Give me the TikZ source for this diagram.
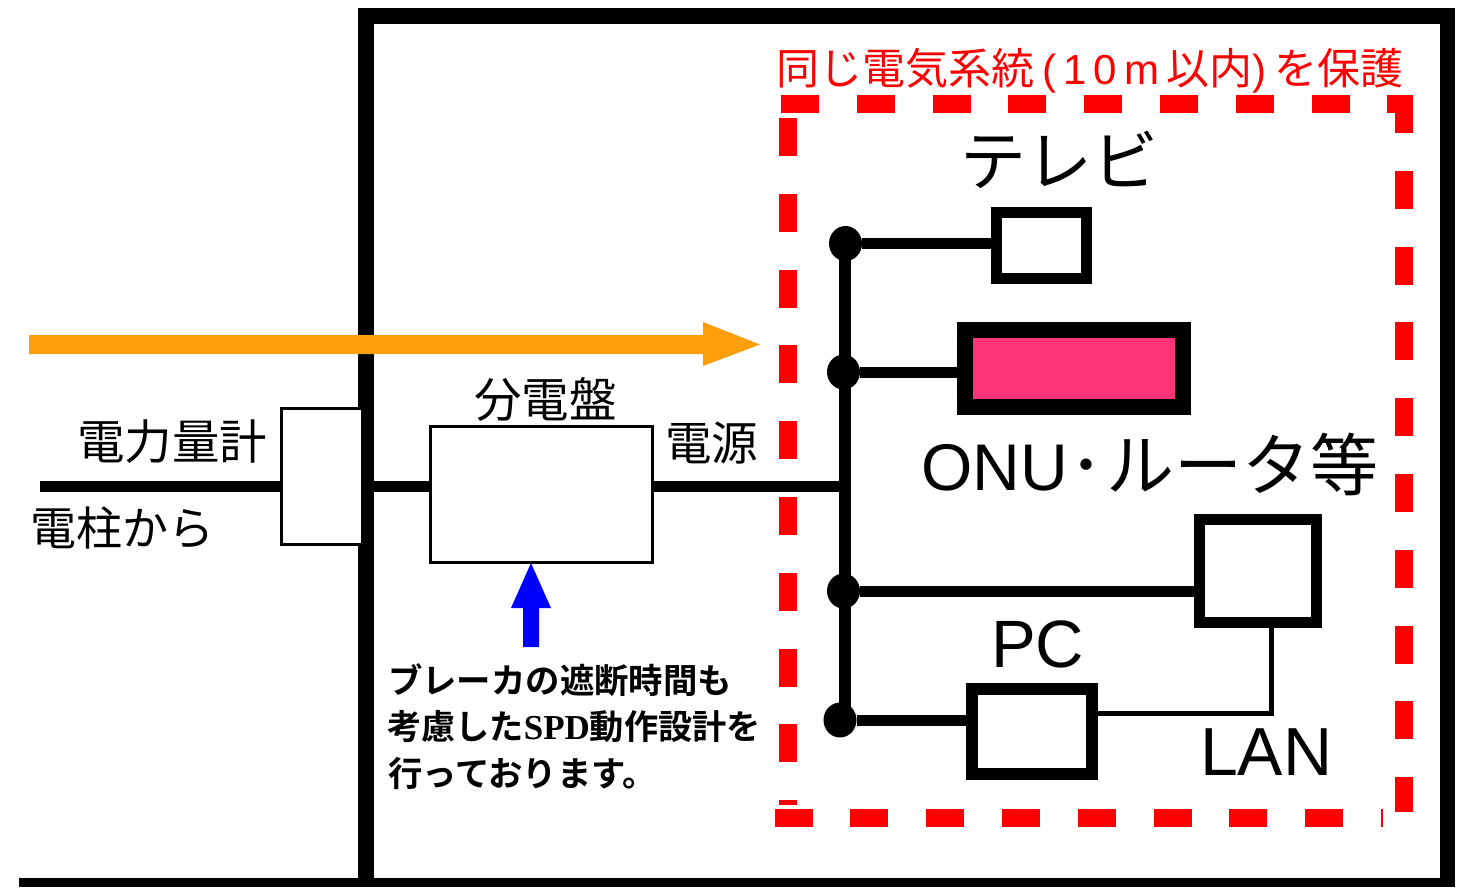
\documentclass[tikz,border=0pt]{standalone}
\usepackage{fontspec}
\usetikzlibrary{shapes.geometric}
\setmainfont{Liberation Sans}
\newfontfamily\cjk{Noto Sans CJK JP}
\newfontfamily\cjkbold{Noto Sans CJK JP Bold}
\newfontfamily\serifb{Liberation Serif Bold}
\definecolor{orangeA}{HTML}{FF9E0B}
\definecolor{pinkA}{HTML}{FF3377}
\newcommand{\fs}[1]{\fontsize{#1}{#1}\selectfont}
\newcommand{\lat}[1]{{\fontspec{Liberation Sans}\fs{42}#1}}
\tikzset{
  devbox/.style={draw=black,fill=white,rectangle,inner sep=0pt,outer sep=0pt},
  jdot/.style={ellipse,fill=black,inner sep=0pt,outer sep=0pt,minimum width=33pt,minimum height=35pt},
  wall/.style={line width=16pt,black},
  wire/.style={line width=11pt,black},
  reddash/.style={red,line width=18pt,dash pattern=on 38pt off 37.8pt},
  lbl/.style={inner sep=0pt,outer sep=0pt,black,align=left}
}
\begin{document}
\begin{tikzpicture}[x=1pt,y=-1pt]
\useasboundingbox (0,0) rectangle (1461,887);
% building walls
\coordinate (wtl) at (366,16);
\coordinate (wtr) at (1447,16);
\coordinate (wbl) at (366,887);
\coordinate (wbr) at (1447,887);
\coordinate (gl) at (19,882.5);
\coordinate (gr) at (1455,882.5);
\draw[wall,line cap=rect] (wtl) -- (wtr);
\draw[wall] (wtl) -- (wbl);
\draw[black,line width=15pt] (wtr) -- (wbr);
\draw[black,line width=9pt] (gl) -- (gr);
% red protected zone
\coordinate (zt1) at (781,103.5);  \coordinate (zt2) at (1401,103.5);
\coordinate (zr1) at (1404,95);    \coordinate (zr2) at (1404,812);
\coordinate (zb1) at (1383,818);   \coordinate (zb2) at (775,818);
\coordinate (zl1) at (788,118);    \coordinate (zl2) at (788,805);
\draw[reddash] (zt1) -- (zt2);
\draw[reddash] (zr1) -- (zr2);
\draw[reddash,dash phase=36pt] (zb1) -- (zb2);
\draw[reddash] (zl1) -- (zl2);
% boxes
\node[devbox,line width=3pt,minimum width=81pt,minimum height=136pt] (meter) at (322,476.5) {};
\node[devbox,line width=3pt,minimum width=222pt,minimum height=136pt] (panel) at (541.5,494.5) {};
\node[devbox,line width=11pt,minimum width=90pt,minimum height=66pt] (tv) at (1041.5,245.5) {};
\node[devbox,line width=16pt,fill=pinkA,minimum width=218pt,minimum height=77pt] (onu) at (1074,368.5) {};
\node[devbox,line width=11pt,minimum width=117pt,minimum height=103pt] (router) at (1258,571) {};
\node[devbox,line width=12pt,minimum width=120pt,minimum height=85pt] (pc) at (1032,731.5) {};
% junctions
\coordinate (in) at (40,486);
\coordinate (bustop) at (845,243);
\coordinate (busbot) at (845,720);
\node[jdot] (d1) at (845.5,243.5) {};
\node[jdot] (d2) at (843.5,372) {};
\node[jdot] (d3) at (843.5,591) {};
\node[jdot] (d4) at (840,720) {};
% wiring
\draw[wire] (in) -- (in -| meter.west);
\draw[wire] (meter.east |- in) -- (panel.west |- in);
\draw[wire] (panel.east |- in) -- (in -| bustop);
\draw[line width=12pt] (bustop) -- (busbot);
\draw[wire] (d1) -- (d1 -| tv.west);
\draw[wire] (d2) -- (d2 -| onu.west);
\draw[wire] (d3) -- (d3 -| router.west);
\draw[wire] (d4) -- (d4 -| pc.west);
\coordinate (lanc) at (1271,713);
\draw[line width=5pt,black,line cap=rect] (lanc -| pc.east) -- (lanc) -- (lanc |- router.south);
% orange arrow
\coordinate (oa) at (29,344.5);
\coordinate (ob) at (760,344.5);
\fill[orangeA] (oa |- 0,335) -- (703,335) -- (703,322) -- (ob) -- (703,366) -- (703,354) -- (oa |- 0,354) -- cycle;
% blue arrow
\coordinate (ba) at (531,647);
\fill[blue] (523,647) -- (523,608) -- (511,608) -- (531,563) -- (551,608) -- (539,608) -- (539,647) -- cycle;
% labels
\node[lbl,anchor=west,red] (t1) at (776,71) {\cjk\fs{43}同じ電気系統\hspace{8pt}\lat{(}\hspace{8pt}\lat{1}\hspace{6pt}\lat{0}\hspace{8pt}\lat{m}\hspace{7pt}以内\lat{)}\hspace{8pt}を保護};
\node[lbl,anchor=west] (t2) at (77,442) {\cjk\fs{47.5}電力量計};
\node[lbl,anchor=west] (t3) at (30,528) {\cjk\fs{46}電柱から};
\node[lbl,anchor=west] (t4) at (474,400) {\cjk\fs{47.5}分電盤};
\node[lbl,anchor=west] (t5) at (665,443) {\cjk\fs{46.5}電源};
\node[lbl,anchor=west] (t6) at (960,160) {\cjk\fs{66}テレビ};
\node[lbl,anchor=base west] (t7) at (921,490) {\fs{66}ONU\hspace{2pt}{\cjk\fs{68}･\hspace{3pt}ルータ等}};
\node[lbl,anchor=base west] (t8) at (991,667) {\fs{67}PC};
\node[lbl,anchor=base west] (t9) at (1200,775) {\fs{68}LAN};
\node[lbl,anchor=west] (t10) at (388,680) {\cjkbold\fs{34.4}ブレーカの遮断時間も};
\node[lbl,anchor=west] (t11) at (387,727) {\cjkbold\fs{34.2}考慮した{\serifb\fs{35}SPD}動作設計を};
\node[lbl,anchor=west] (t12) at (388,773) {\cjkbold\fs{34.4}行っております。};
\end{tikzpicture}
\end{document}
